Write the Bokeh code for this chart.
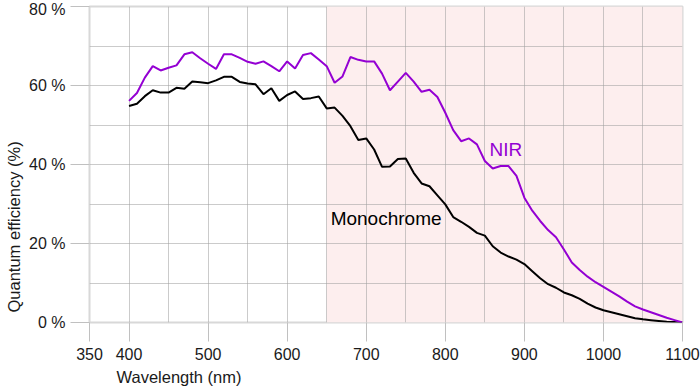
from bokeh.plotting import figure
from bokeh.models import FixedTicker, Range1d, Label, Title
from bokeh.embed import file_html
from bokeh.resources import INLINE

# ---- data ----
wavelength = list(range(400, 1101, 10))
nir = [56.1, 58.1, 62.0, 64.9, 63.8, 64.5, 65.1, 67.9, 68.4, 66.9,
       65.5, 64.2, 67.9, 67.9, 67.0, 66.0, 65.5, 66.1, 64.9, 63.6,
       66.1, 64.3, 67.7, 68.2, 66.6, 64.9, 60.7, 62.3, 67.2, 66.5,
       66.1, 66.1, 63.0, 58.8, 61.0, 63.2, 61.0, 58.4, 58.9, 57.1,
       53.1, 48.7, 45.9, 46.6, 45.1, 40.9, 39.0, 39.6, 39.6, 37.1,
       31.6, 28.3, 25.7, 23.4, 21.6, 18.5, 15.2, 13.3, 11.6, 10.2,
       9.0, 7.8, 6.6, 5.3, 4.1, 3.3, 2.6, 1.9, 1.2, 0.6, 0.0]
mono = [54.8, 55.4, 57.3, 58.8, 58.2, 58.2, 59.4, 59.2, 61.0, 60.8,
        60.6, 61.3, 62.2, 62.2, 60.9, 60.5, 60.3, 57.8, 59.3, 56.1,
        57.6, 58.5, 56.6, 56.8, 57.2, 54.2, 54.4, 52.3, 49.7, 46.2,
        46.6, 43.8, 39.4, 39.5, 41.4, 41.5, 37.9, 35.2, 34.5, 32.2,
        29.9, 26.7, 25.5, 24.2, 22.7, 22.0, 19.3, 17.7, 16.7, 15.9,
        14.8, 13.0, 11.2, 9.7, 8.8, 7.6, 6.9, 6.0, 4.8, 3.8,
        3.1, 2.6, 2.1, 1.6, 1.1, 0.8, 0.6, 0.4, 0.2, 0.1, 0.0]
x_ticks = [350, 400, 500, 600, 700, 800, 900, 1000, 1100]
x_minor = [450, 550, 650, 750, 850, 950, 1050]
y_ticks = [0, 20, 40, 60, 80]
y_minor = [10, 30, 50, 70]
y_tick_labels = ["0 %", "20 %", "40 %", "60 %", "80 %"]
band_x = [650, 1100]
band_y = [0, 80]
x_label = "Wavelength (nm)"
y_label = "Quantum efficiency (%)"
series_names = ["NIR", "Monochrome"]

FONT = "Liberation Sans"
GRID = "#a0a0a0"
PURPLE = "#9400D3"
TEXT = "#1a1a1a"

p = figure(width=700, height=392, output_backend="svg", toolbar_location=None,
           x_range=Range1d(350, 1100), y_range=Range1d(0, 80),
           min_border_left=89, min_border_right=18, min_border_top=6,
           min_border_bottom=70)
p.background_fill_color = "white"
p.border_fill_color = "white"
p.outline_line_color = "#d8d8d8"
p.outline_line_width = 2

# shaded NIR region
p.quad(left=[band_x[0]], right=[band_x[1]], bottom=[band_y[0]], top=[band_y[1]],
       fill_color="#fdeeee", line_color=None, level="image")

p.xaxis.ticker = FixedTicker(ticks=x_ticks, minor_ticks=x_minor)
p.yaxis.ticker = FixedTicker(ticks=y_ticks, minor_ticks=y_minor)
p.yaxis.major_label_overrides = {t: l for t, l in zip(y_ticks, y_tick_labels)}

for ax in (p.xaxis, p.yaxis):
    ax.axis_line_color = "white"
    ax.axis_line_alpha = 0
    ax.major_tick_in = 0
    ax.major_tick_out = 19
    ax.major_tick_line_color = "#c0c0c0"
    ax.major_tick_line_width = 1
    ax.minor_tick_line_color = None
    ax.major_label_text_font = FONT
    ax.major_label_text_font_size = "16px"
    ax.major_label_text_color = TEXT
p.xaxis.major_label_standoff = 6
p.yaxis.major_label_standoff = 5

for g in (p.xgrid, p.ygrid):
    g.grid_line_color = GRID
    g.grid_line_alpha = 0.55
    g.minor_grid_line_color = GRID
    g.minor_grid_line_alpha = 0.55

p.line(wavelength, mono, line_color="black", line_width=2)
p.line(wavelength, nir, line_color=PURPLE, line_width=2)

p.add_layout(Label(x=856, y=43.7, text=series_names[0], text_color=PURPLE,
                   text_font=FONT, text_font_size="19px",
                   text_align="left", text_baseline="middle"))
p.add_layout(Label(x=655, y=26.3, text=series_names[1], text_color="black",
                   text_font=FONT, text_font_size="19px",
                   text_align="left", text_baseline="middle"))

# axis titles, placed like the reference (toward the origin corner)
p.add_layout(Title(text=x_label, align="left", offset=27, standoff=7,
                   text_font=FONT, text_font_size="16.5px",
                   text_font_style="normal", text_color=TEXT), "below")
p.add_layout(Title(text=y_label, align="left", offset=10, standoff=4,
                   vertical_align="top",
                   text_font=FONT, text_font_size="16.5px",
                   text_font_style="normal", text_color=TEXT), "left")

open("out.html", "w").write(file_html(p, INLINE))
